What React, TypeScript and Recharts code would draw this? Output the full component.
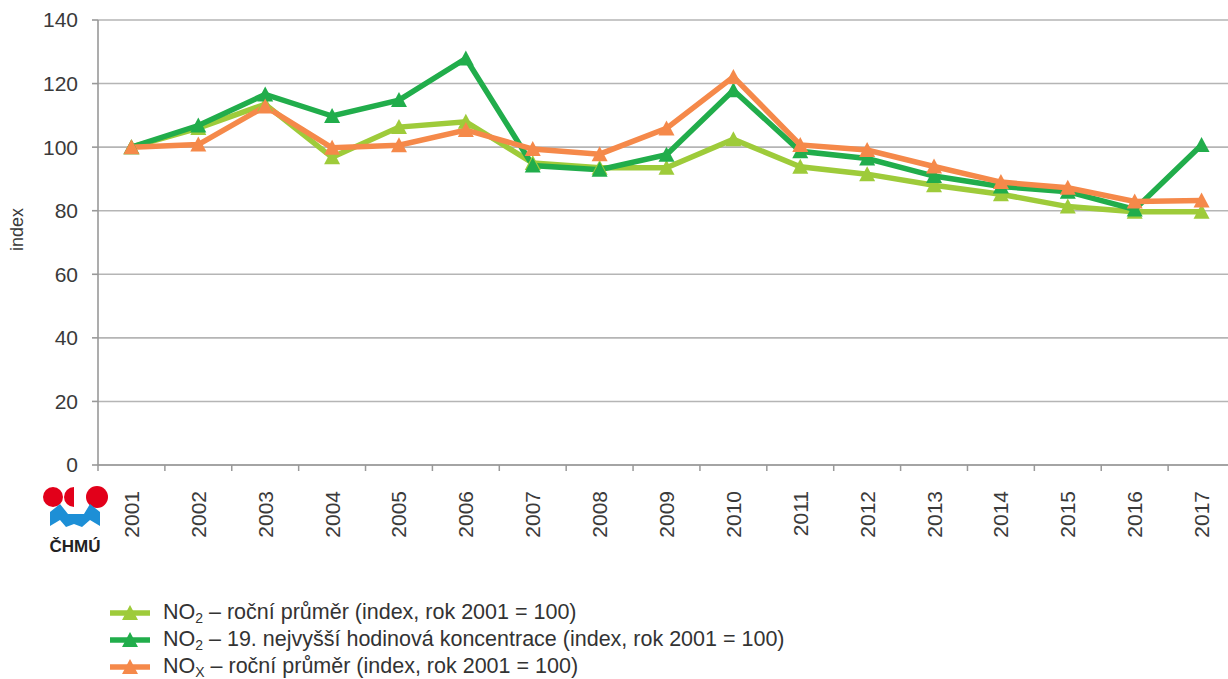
import React from "react";
import { LineChart, Line, XAxis, YAxis, CartesianGrid } from "recharts";

const years = ["2001","2002","2003","2004","2005","2006","2007","2008","2009","2010","2011","2012","2013","2014","2015","2016","2017"];
const no2Annual = [100, 106, 113.5, 96.8, 106.3, 108, 95, 93.5, 93.5, 102.5, 93.8, 91.5, 88, 85.2, 81.3, 79.7, 79.7];
const no2Hourly = [100, 106.8, 116.6, 109.8, 114.8, 127.9, 94.2, 92.9, 97.6, 117.9, 98.7, 96.4, 90.9, 87.6, 86, 80.4, 100.7];
const noxAnnual = [100, 100.8, 112.8, 99.8, 100.6, 105.4, 99.4, 97.8, 105.9, 122.1, 100.7, 99.1, 93.9, 89, 87.2, 82.9, 83.2];
const yTicks = [0, 20, 40, 60, 80, 100, 120, 140];

const C_LIGHT = "#9ecb3a";
const C_DARK = "#21ad4b";
const C_ORANGE = "#f5894a";
const FONT = "'Liberation Sans', Arial, sans-serif";

const data = years.map((y, i) => ({ year: y, a: no2Annual[i], h: no2Hourly[i], x: noxAnnual[i] }));

const CHART_W = 1240;
const MARGIN_R = 5;
const Y_W = 98;
const BAND = (CHART_W - MARGIN_R - Y_W) / years.length;

const tri = (color: string) => (props: any) => {
  const { cx, cy, index } = props;
  if (cx == null || cy == null) return <g key={index} />;
  return (
    <polygon
      key={index}
      points={`${cx - 8},${cy + 7} ${cx + 8},${cy + 7} ${cx},${cy - 8}`}
      fill={color}
    />
  );
};

const XTick = (props: any) => {
  const { x, y, payload, index } = props;
  const lx = x - BAND / 2;
  return (
    <g>
      <line x1={lx} y1={y} x2={lx} y2={y + 6} stroke="#999" strokeWidth={1.5} />
      {index === years.length - 1 && (
        <line x1={x + BAND / 2} y1={y} x2={x + BAND / 2} y2={y + 6} stroke="#999" strokeWidth={1.5} />
      )}
      <text
        x={x}
        y={y + 26}
        transform={`rotate(-90, ${x}, ${y + 26})`}
        textAnchor="end"
        dominantBaseline="central"
        fontSize={21}
        fontFamily={FONT}
        fill="#3a3a3a"
      >
        {payload.value}
      </text>
    </g>
  );
};

const YLabel = (props: any) => {
  const vb = props.viewBox || {};
  const cx = 17;
  const cy = (vb.y ?? 20) + (vb.height ?? 445) / 2 - 13;
  return (
    <text
      x={cx}
      y={cy}
      transform={`rotate(-90, ${cx}, ${cy})`}
      textAnchor="middle"
      dominantBaseline="central"
      fontSize={18}
      fontFamily={FONT}
      fill="#3a3a3a"
    >
      index
    </text>
  );
};

const LegendMarker = ({ color }: { color: string }) => (
  <svg width={44} height={20} style={{ display: "block" }}>
    <line x1={2} y1={11} x2={42} y2={11} stroke={color} strokeWidth={5.5} />
    <polygon points="14,18 30,18 22,3" fill={color} />
  </svg>
);

const legendItems = [
  { color: C_LIGHT, main: "NO", sub: "2", rest: " – roční průměr (index, rok 2001 = 100)" },
  { color: C_DARK, main: "NO", sub: "2", rest: " – 19. nejvyšší hodinová koncentrace (index, rok 2001 = 100)" },
  { color: C_ORANGE, main: "NO", sub: "X", rest: " – roční průměr (index, rok 2001 = 100)" },
];

const Logo = () => (
  <svg width={80} height={80} style={{ position: "absolute", left: 38, top: 482 }}>
    <circle cx={15} cy={15} r={10} fill="#e2001a" />
    <path d="M36,5 A10,10 0 0 0 36,25 Z" fill="#e2001a" />
    <circle cx={59} cy={15} r={11} fill="#e2001a" />
    <path d="M12,30 L22,22 L30,32 L38,32 L46,32 L52,22 L62,30 L62,44 L52,38 L44,45 L36,42 L28,45 L22,38 L12,44 Z" fill="#1d8fd6" />
    <text x={37} y={70} textAnchor="middle" fontSize={17} fontWeight="bold" fontFamily={FONT} fill="#222">ČHMÚ</text>
  </svg>
);

export default function App() {
  return (
    <div style={{ position: "absolute", left: 0, top: 0, width: 1228, height: 679, overflow: "hidden", background: "#fff" }}>
      <LineChart
        width={CHART_W}
        height={679}
        data={data}
        margin={{ top: 20, right: MARGIN_R, left: 0, bottom: 114 }}
      >
        <CartesianGrid vertical={false} stroke="#b5b5b5" strokeWidth={1.6} />
        <XAxis
          dataKey="year"
          height={100}
          tickLine={false}
          tickSize={0}
          tickMargin={0}
          interval={0}
          padding={{ left: BAND / 2, right: BAND / 2 }}
          axisLine={{ stroke: "#999", strokeWidth: 1.6 }}
          tick={<XTick />}
        />
        <YAxis
          width={Y_W}
          domain={[0, 140]}
          ticks={yTicks}
          interval={0}
          tickSize={6}
          tickMargin={14}
          axisLine={{ stroke: "#999", strokeWidth: 1.6 }}
          tickLine={{ stroke: "#999", strokeWidth: 1.6 }}
          tick={{ fontSize: 21, fontFamily: FONT, fill: "#3a3a3a" }}
          label={<YLabel />}
        />
        <Line type="linear" dataKey="a" stroke={C_LIGHT} strokeWidth={5.5} dot={tri(C_LIGHT)} activeDot={false} isAnimationActive={false} />
        <Line type="linear" dataKey="h" stroke={C_DARK} strokeWidth={5.5} dot={tri(C_DARK)} activeDot={false} isAnimationActive={false} />
        <Line type="linear" dataKey="x" stroke={C_ORANGE} strokeWidth={5.5} dot={tri(C_ORANGE)} activeDot={false} isAnimationActive={false} />
      </LineChart>
      <Logo />
      <div style={{ position: "absolute", left: 108, top: 598, fontFamily: FONT, fontSize: 21.5, lineHeight: "24px", color: "#333" }}>
        {legendItems.map((it, i) => (
          <div key={i} style={{ display: "flex", alignItems: "center", height: 27 }}>
            <LegendMarker color={it.color} />
            <span style={{ marginLeft: 11, whiteSpace: "nowrap" }}>
              {it.main}
              <sub style={{ fontSize: 14, verticalAlign: "-4px", lineHeight: 0 }}>{it.sub}</sub>
              {it.rest}
            </span>
          </div>
        ))}
      </div>
    </div>
  );
}
